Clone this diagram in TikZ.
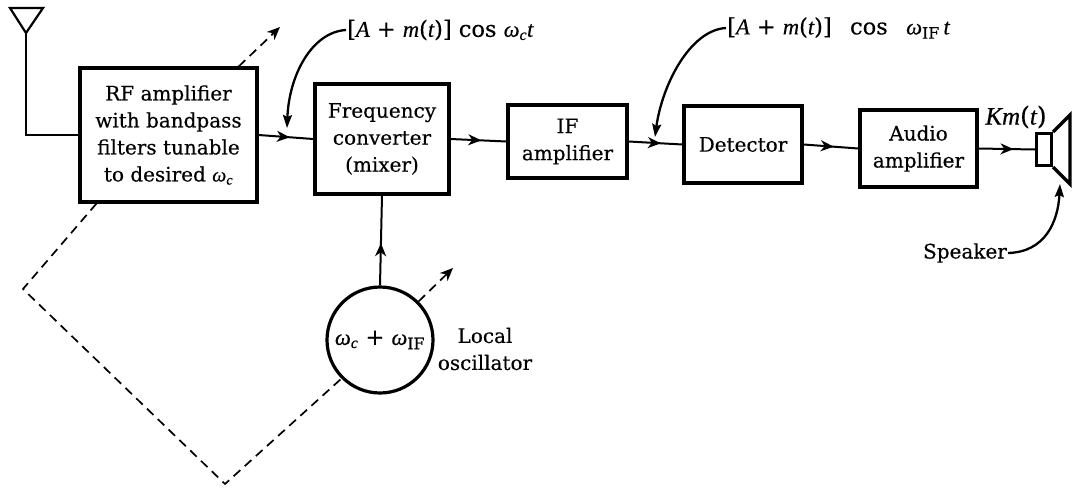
\documentclass[tikz,border=0pt]{standalone}
\usepackage{fontspec}
\setmainfont{DejaVu Serif}[FakeBold=0.35]
\newfontfamily\varfont{Liberation Serif}[FakeBold=0.5]
\newcommand\vi[1]{{\varfont\itshape #1}}
\newcommand\sub[1]{\textsubscript{#1}}
\usetikzlibrary{arrows.meta,decorations.markings,calc}
\begin{document}
\begin{tikzpicture}[x=1pt,y=-1pt,
  txt/.style={font=\fontsize{20}{27}\selectfont},
  bigtxt/.style={font=\fontsize{22.5}{27}\selectfont},
  blk/.style={draw,line width=3.2pt,inner sep=0pt,align=center,txt},
  conn/.style={line width=2pt},
  tip/.style={-{Stealth[length=13pt,width=11pt,inset=4pt]}},
  midarrow/.style={postaction={decorate},decoration={markings,mark=at position #1 with {\arrow{Stealth[length=13pt,width=11pt,inset=4pt]}}}},
  midarrow/.default=0.55,
  dsh/.style={line width=1.7pt,dash pattern=on 9pt off 6pt},
  curv/.style={line width=2.3pt,-{Stealth[length=13pt,width=9pt,inset=2pt]}},
  lab/.style={txt,inner sep=1pt}
]
\useasboundingbox (0,0) rectangle (1072,490);

% blocks
\node[blk,minimum width=177pt,minimum height=134pt] (rf) at (168.5,135)
  {RF amplifier\\with bandpass\\filters tunable\\to desired \vi{ω}\sub{\vi{c}}};
\node[blk,minimum width=134pt,minimum height=110pt] (fc) at (382,139)
  {Frequency\\converter\\(mixer)};
\node[blk,minimum width=119pt,minimum height=73pt] (if) at (567.5,141.5)
  {IF\\amplifier};
\node[blk,minimum width=118pt,minimum height=77pt] (det) at (743,144.5)
  {Detector};
\node[blk,minimum width=117pt,minimum height=77pt] (aud) at (918.5,148.5)
  {Audio\\amplifier};
\node[blk,circle,minimum size=106pt,bigtxt] (lo) at (380,340)
  {\vi{ω}\sub{\vi{c}} + \vi{ω}\sub{IF}};
\node[draw,line width=3.2pt,inner sep=0pt,minimum width=15pt,minimum height=32pt] (spk) at (1044,149.5) {};

% speaker cone
\draw[line width=3.2pt,line join=miter] (spk.north east) -- (1070,115) -- (1070,184) -- (spk.south east);

% antenna
\coordinate (ant) at (26,33);
\draw[line width=2.2pt,line join=miter] (10,8) -- (43,8) -- (ant) -- cycle;
\draw[conn] (ant) |- (rf.west);

% signal path
\draw[conn,midarrow=0.57] (rf.east) -- (fc.west);
\draw[conn,midarrow=0.55] (fc.west -| fc.east) -- (if.west);
\draw[conn,midarrow=0.6] (if.east) -- (det.west);
\draw[conn,midarrow=0.55] (det.east) -- (aud.west);
\draw[conn,midarrow=0.62] (aud.east) -- (spk.west);
\draw[conn,midarrow=0.47] (lo.north) -- (fc.south);

% tuning (dashed)
\coordinate (rftune) at (280,27);
\coordinate (lotune) at (453,268);
\coordinate (fbl) at (23,289);
\coordinate (fbb) at (225,484);
\draw[dsh,tip] ($(rf.north west)!0.89!(rf.north east)$) -- (rftune);
\draw[dsh,tip] (lo.45) -- (lotune);
\draw[dsh] ($(rf.south west)!0.1!(rf.south east)$) -- (fbl) -- (fbb) -- (lo.225);

% labels
\node[lab,bigtxt,anchor=west] (l1) at (346,30) {[\vi{A} + \vi{m}(\vi{t})] cos \vi{ω}\sub{\vi{c}}\vi{t}};
\draw[curv] (l1.west) .. controls (312,32) and (289,75) .. (287,128);
\node[lab,bigtxt,anchor=west] (l2) at (726,28) {[\vi{A} + \vi{m}(\vi{t})]\enspace\ cos\enspace\ \vi{ω}\sub{IF}\,\vi{t}};
\draw[curv] (l2.west) .. controls (690,30) and (662,85) .. (655,137);
\node[lab,font=\fontsize{25}{27}\selectfont] (km) at (1016,117) {\vi{Km}(\vi{t})};
\node[lab,align=center] (lol) at (485,349) {Local\\oscillator};
\node[lab] (sp) at (965,253) {Speaker};
\draw[curv] (sp.east) .. controls (1045,252) and (1058,222) .. (1060,184);
\end{tikzpicture}
\end{document}
